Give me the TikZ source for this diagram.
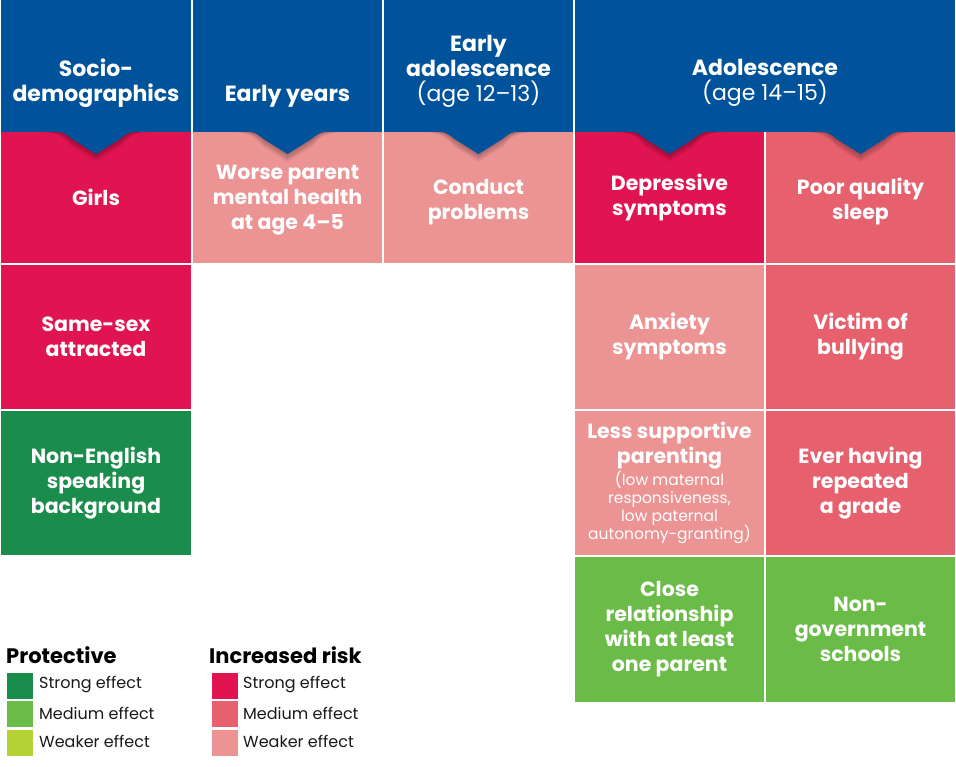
\documentclass[tikz,border=0pt]{standalone}
\usepackage{fontspec}
\setmainfont{Poppins}
\usepackage{xcolor}
\definecolor{headblue}{RGB}{0,82,155}
\definecolor{riskstrong}{RGB}{224,20,80}
\definecolor{riskmedium}{RGB}{230,96,110}
\definecolor{riskweak}{RGB}{236,147,147}
\definecolor{protstrong}{RGB}{26,140,75}
\definecolor{protmedium}{RGB}{106,187,71}
\definecolor{protweak}{RGB}{181,211,52}
\tikzstyle{cell}=[
        inner sep = 0pt,
        text = white,
        align = center,
        minimum width = 189pt,
        font = \fontsize{20.5}{25}\selectfont\bfseries
    ]
\tikzstyle{head}=[
        fill = headblue,
        inner sep = 0pt,
        minimum height = 132pt
    ]
\tikzstyle{title}=[
        text = white,
        align = center,
        font = \fontsize{22}{25}\selectfont\bfseries
    ]
\tikzstyle{swatch}=[
        minimum size = 26pt,
        inner sep = 0pt
    ]

\begin{document}
\begin{tikzpicture}[x=1pt, y=-1pt,
        row1/.style = {cell, minimum height=131pt},
        row2/.style = {cell, minimum height=144pt},
        key/.style = {anchor=west, inner sep=0pt, font=\fontsize{16}{18}\selectfont, text=black!90},
        keyhead/.style = {anchor=base west, inner sep=0pt, font=\fontsize{21}{24}\selectfont\bfseries}]
        \useasboundingbox (0,0) rectangle (956,766);

        % headers
        \node[head, minimum width=190pt] (H1) at (96,66) {};
        \node[head, minimum width=189pt] (H2) at (287.5,66) {};
        \node[head, minimum width=189pt] (H3) at (478.5,66) {};
        \node[head, minimum width=380pt] (H4) at (765,66) {};
        \node[title] (socio) at (96,83) {Socio-\\demographics};
        \node[title] (early) at (287.5,96) {Early years};
        \node[title] (earlyadol) at (478.5,71) {Early\\adolescence\\{\mdseries (age 12--13)}};
        \node[title] (adol) at (765,83) {Adolescence\\{\mdseries (age 14--15)}};

        % first row
        \node[row1, fill=riskstrong, minimum width=190pt] (girls) at (96,197.5) {Girls};
        \node[row1, fill=riskweak] (parenthealth) at (287.5,197.5) {\rule{0pt}{19pt}Worse parent\\mental health\\at age 4--5};
        \node[row1, fill=riskweak] (conduct) at (478.5,197.5) {\rule{0pt}{23.5pt}Conduct\\problems};
        \node[row1, fill=riskstrong] (depress) at (669.5,197.5) {Depressive\\symptoms};
        \node[row1, fill=riskmedium] (sleep) at (860.5,197.5) {\rule{0pt}{25pt}Poor quality\\sleep};

        % other rows
        \node[row2, fill=riskstrong, minimum width=190pt] (samesex) at (96,337) {Same-sex\\attracted};
        \node[row2, fill=protstrong, minimum width=190pt] (nonenglish) at (96,483) {Non-English\\speaking\\background};
        \node[row2, fill=riskweak] (anxiety) at (669.5,337) {Anxiety\\symptoms};
        \node[row2, fill=riskmedium] (bullying) at (860.5,337) {Victim of\\bullying};
        \node[row2, fill=riskweak] (parenting) at (669.5,483) {Less supportive\\parenting\\[-3pt]
                {\fontsize{15.5}{17}\selectfont\mdseries (low maternal}\\[-7pt]
                {\fontsize{15.5}{17}\selectfont\mdseries responsiveness,}\\[-7pt]
                {\fontsize{15.5}{17}\selectfont\mdseries low paternal}\\[-7pt]
                {\fontsize{15.5}{17}\selectfont\mdseries autonomy-granting)}};
        \node[row2, fill=riskmedium] (grade) at (860.5,483) {Ever having\\repeated\\a grade};
        \node[row2, fill=protmedium, minimum height=145pt] (closeparent) at (669.5,629.5) {Close\\relationship\\with at least\\one parent};
        \node[row2, fill=protmedium, minimum height=145pt] (nongov) at (860.5,629.5) {Non-\\government\\schools};

        % notches under the headers
        \foreach \cx in {96,287.5,478.5,669.5,860.5}{
            \foreach \k in {1,...,8}
                \fill[black, opacity=0.035] (\cx-44-\k*1.5,132) .. controls (\cx-33,132) and (\cx-30,134+\k) .. (\cx-24,139+\k)
                    -- (\cx,154+\k) -- (\cx+24,139+\k) .. controls (\cx+30,134+\k) and (\cx+33,132) .. (\cx+44+\k*1.5,132) -- cycle;
            \fill[headblue] (\cx-43,131.5) .. controls (\cx-33,131.5) and (\cx-30,134) .. (\cx-24,139)
                -- (\cx,154) -- (\cx+24,139) .. controls (\cx+30,134) and (\cx+33,131.5) .. (\cx+43,131.5) -- cycle;
        }

        % legend
        \node[keyhead] (protective) at (6,663) {Protective};
        \node[keyhead] (risk) at (209,663) {Increased risk};
        \node[swatch, fill=protstrong] (ps) at (20,686) {};
        \node[swatch, fill=protmedium] (pm) at (20,714) {};
        \node[swatch, fill=protweak] (pw) at (20,742.5) {};
        \node[swatch, fill=riskstrong] (rs) at (224.5,686) {};
        \node[swatch, fill=riskmedium] (rm) at (224.5,714) {};
        \node[swatch, fill=riskweak] (rw) at (224.5,742.5) {};
        \node[key] (pstext) at (39,685) {Strong effect};
        \node[key] (pmtext) at (39,713) {Medium effect};
        \node[key] (pwtext) at (39,741.5) {Weaker effect};
        \node[key] (rstext) at (243,685) {Strong effect};
        \node[key] (rmtext) at (243,713) {Medium effect};
        \node[key] (rwtext) at (243,741.5) {Weaker effect};
    \end{tikzpicture}
\end{document}
